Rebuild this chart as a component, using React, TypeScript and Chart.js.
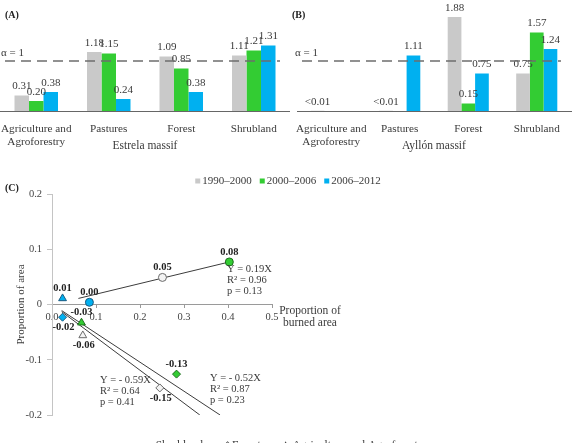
import React, { useEffect, useRef } from 'react';
import { Chart, registerables } from 'chart.js';

Chart.register(...registerables);

const FONT = "'Liberation Serif', 'Times New Roman', serif";
Chart.defaults.font.family = FONT;
Chart.defaults.color = '#333333';

// ---------- Data: panels A and B ----------
const categories = [['Agriculture and', 'Agroforestry'], 'Pastures', 'Forest', 'Shrubland'];
const periods = ['1990–2000', '2000–2006', '2006–2012'];
const periodColors = ['#C9C9C9', '#33CC33', '#00B0F0'];

const estrela1990 = [0.31, 1.18, 1.09, 1.11];
const estrela2000 = [0.2, 1.15, 0.85, 1.21];
const estrela2006 = [0.38, 0.24, 0.38, 1.31];

const ayllon1990 = [0.005, 0.005, 1.88, 0.75];
const ayllon2000 = [null, null, 0.15, 1.57];
const ayllon2006 = [null, 1.11, 0.75, 1.24];

const massifs = ['Estrela massif', 'Ayllón massif'];
const alphaValue = 1;

// ---------- Data: panel C ----------
const landCovers = ['Shrubland', 'Forest', 'Agriculture and Agroforestry'];
const shrubBurned = [0.251, 0.403, 0.085];
const shrubChange = [0.049, 0.077, 0.004];
const forestBurned = [0.245, 0.283, 0.024];
const forestChange = [-0.151, -0.126, -0.023];
const agriBurned = [0.07, 0.067, 0.024];
const agriChange = [-0.056, -0.033, 0.011];

const fitShrubX = [0.06, 0.403];
const fitShrubY = [0.011, 0.077];
const fitSteepX = [0.022, 0.336];
const fitSteepY = [-0.013, -0.2];
const fitShallowX = [0.022, 0.382];
const fitShallowY = [-0.011, -0.2];
const fitTexts = [
  ['Y = 0.19X', 'R² = 0.96', 'p = 0.13'],
  ['Y = - 0.59X', 'R² = 0.64', 'p = 0.41'],
  ['Y = - 0.52X', 'R² = 0.87', 'p = 0.23'],
];
const shapeLegend = ['○Shrubland', '◇Forest', '△ Agriculture and Agroforestry'];

const TEXT = '#3a3a3a';

// ---------- Plugins ----------
const panelLabelPlugin = {
  id: 'panelLabel',
  afterDraw(chart: any, _a: any, opts: any) {
    const ctx = chart.ctx;
    ctx.save();
    ctx.font = `bold 10px ${FONT}`;
    ctx.fillStyle = '#222';
    ctx.textAlign = 'left';
    ctx.textBaseline = 'middle';
    ctx.fillText(opts.text, opts.x, opts.y);
    ctx.restore();
  },
};

const barLabelsPlugin = {
  id: 'barLabels',
  afterDatasetsDraw(chart: any) {
    const ctx = chart.ctx;
    ctx.save();
    ctx.font = `11px ${FONT}`;
    ctx.fillStyle = TEXT;
    ctx.textAlign = 'center';
    ctx.textBaseline = 'middle';
    chart.data.datasets.forEach((ds: any, i: number) => {
      const meta = chart.getDatasetMeta(i);
      meta.data.forEach((el: any, j: number) => {
        const v = ds.data[j];
        if (v === null || v === undefined) return;
        const t = v < 0.01 ? '<0.01' : v.toFixed(2);
        ctx.fillText(t, el.x, el.y - 9);
      });
    });
    ctx.restore();
  },
};

const refLinePlugin = {
  id: 'refLine',
  afterDatasetsDraw(chart: any, _a: any, opts: any) {
    const { ctx, chartArea } = chart;
    const y = chart.scales.y.getPixelForValue(opts.value);
    ctx.save();
    ctx.strokeStyle = '#6e6e6e';
    ctx.lineWidth = 1.6;
    ctx.setLineDash([10, 6]);
    ctx.beginPath();
    ctx.moveTo(chartArea.left + 5, y);
    ctx.lineTo(chartArea.right - 10, y);
    ctx.stroke();
    ctx.setLineDash([]);
    ctx.font = `11px ${FONT}`;
    ctx.fillStyle = TEXT;
    ctx.textAlign = 'left';
    ctx.textBaseline = 'middle';
    ctx.fillText(opts.label, chartArea.left + opts.labelDx, y - 8);
    ctx.restore();
  },
};

const pointLabelsPlugin = {
  id: 'pointLabels',
  afterDatasetsDraw(chart: any, _a: any, opts: any) {
    const ctx = chart.ctx;
    ctx.save();
    ctx.font = `bold 10.5px ${FONT}`;
    ctx.fillStyle = '#222';
    ctx.textAlign = 'center';
    ctx.textBaseline = 'middle';
    opts.sides.forEach((sides: string[], i: number) => {
      const meta = chart.getDatasetMeta(i);
      const ds = chart.data.datasets[i];
      meta.data.forEach((el: any, j: number) => {
        const v = ds.data[j].y;
        const dy = sides[j] === 'above' ? -10 : 10;
        ctx.fillText(v.toFixed(2), el.x + (sides[j] === 'below' ? 1 : 0), el.y + dy);
      });
    });
    ctx.restore();
  },
};

const fitLabelsPlugin = {
  id: 'fitLabels',
  afterDatasetsDraw(chart: any, _a: any, opts: any) {
    const ctx = chart.ctx;
    const { x: xs, y: ys } = chart.scales;
    ctx.save();
    ctx.font = `10.5px ${FONT}`;
    ctx.fillStyle = TEXT;
    ctx.textAlign = 'left';
    ctx.textBaseline = 'middle';
    fitTexts.forEach((lines, i) => {
      const [ax, ay] = opts.anchors[i];
      const px = xs.getPixelForValue(ax);
      const py = ys.getPixelForValue(ay);
      lines.forEach((l, k) => ctx.fillText(l, px, py + k * 11));
    });
    ctx.restore();
  },
};

const legendsPlugin = {
  id: 'legendsC',
  afterDraw(chart: any, _a: any, opts: any) {
    const ctx = chart.ctx;
    ctx.save();
    // colour legend
    ctx.font = `11px ${FONT}`;
    ctx.textBaseline = 'middle';
    ctx.textAlign = 'left';
    const box = 5, gapBox = 2, gapItem = 8;
    const widths = periods.map((p) => box + gapBox + ctx.measureText(p).width);
    const total = widths.reduce((a, b) => a + b, 0) + gapItem * (periods.length - 1);
    let x = opts.colorCenterX - total / 2;
    periods.forEach((p, i) => {
      ctx.fillStyle = periodColors[i];
      ctx.fillRect(x, opts.colorY - box / 2, box, box);
      ctx.fillStyle = TEXT;
      ctx.fillText(p, x + box + gapBox, opts.colorY);
      x += widths[i] + gapItem;
    });
    // shape legend
    ctx.font = `11.5px ${FONT}`;
    ctx.textBaseline = 'alphabetic';
    const sw = shapeLegend.map((s) => ctx.measureText(s).width);
    const sg = 20;
    const stotal = sw.reduce((a, b) => a + b, 0) + sg * (shapeLegend.length - 1);
    let sx = opts.colorCenterX - stotal / 2;
    shapeLegend.forEach((s, i) => {
      ctx.fillStyle = TEXT;
      ctx.fillText(s, sx, opts.shapeY);
      sx += sw[i] + sg;
    });
    // x-axis title
    const { chartArea } = chart;
    const y0 = chart.scales.y.getPixelForValue(0);
    ctx.font = `11.5px ${FONT}`;
    ctx.textAlign = 'center';
    ctx.textBaseline = 'middle';
    opts.xTitle.forEach((l: string, k: number) => {
      ctx.fillText(l, chartArea.right + 38, y0 + 6 + k * 12);
    });
    ctx.restore();
  },
};

function barConfig(series: (number | null)[][], massif: string, panel: string, panelX: number, padLeft: number, padRight: number, labelDx: number) {
  return {
    type: 'bar',
    data: {
      labels: categories,
      datasets: series.map((d, i) => ({
        label: periods[i],
        data: d,
        backgroundColor: periodColors[i],
        borderWidth: 0,
        categoryPercentage: 0.6,
        barPercentage: 1,
      })),
    },
    options: {
      animation: false,
      responsive: false,
      layout: { padding: { top: 15, left: padLeft, right: padRight, bottom: 0 } },
      plugins: {
        legend: { display: false },
        tooltip: { enabled: false },
        refLine: { value: alphaValue, label: 'α = 1', labelDx },
        panelLabel: { text: panel, x: panelX, y: 15 },
      },
      scales: {
        x: {
          grid: { display: false },
          border: { display: true, color: '#666', width: 1 },
          ticks: { font: { size: 11.2, lineHeight: 1.12 }, color: TEXT, padding: 4, maxRotation: 0, autoSkip: false },
          title: { display: true, text: massif, font: { size: 11.5 }, color: TEXT, padding: { top: 0, bottom: 7 } },
          afterFit: (s: any) => {
            s.height = 49;
            s.paddingLeft = 0;
            s.paddingRight = 0;
          },
        },
        y: { display: false, min: 0, max: 1.92 },
      },
    },
    plugins: [barLabelsPlugin, refLinePlugin, panelLabelPlugin],
  };
}

const periodFill = ['#F4F4F4', '#33CC33', '#00B0F0'];
const periodBorder = ['#6a6a6a', '#1E6E1E', '#1A5A80'];

function scatterConfig() {
  const pts = (xs: number[], ys: number[]) => xs.map((x, i) => ({ x, y: ys[i] }));
  const pointDs = (label: string, data: any, style: string, r: number) => ({
    label,
    data,
    pointStyle: style,
    pointRadius: r,
    backgroundColor: periodFill,
    borderColor: periodBorder,
    borderWidth: 1,
    order: 1,
  });
  const lineDs = (data: any) => ({
    label: 'fit',
    data,
    showLine: true,
    pointRadius: 0,
    borderColor: '#3c3c3c',
    borderWidth: 1,
    fill: false,
    order: 2,
  });
  return {
    type: 'scatter',
    data: {
      datasets: [
        pointDs(landCovers[0], pts(shrubBurned, shrubChange), 'circle', 4),
        pointDs(landCovers[1], pts(forestBurned, forestChange), 'rectRot', 4),
        pointDs(landCovers[2], pts(agriBurned, agriChange), 'triangle', 4.5),
        lineDs(pts(fitShrubX, fitShrubY)),
        lineDs(pts(fitSteepX, fitSteepY)),
        lineDs(pts(fitShallowX, fitShallowY)),
      ],
    },
    options: {
      animation: false,
      responsive: false,
      layout: { padding: { top: 34, left: 0, right: 301, bottom: 28 } },
      plugins: {
        legend: { display: false },
        tooltip: { enabled: false },
        panelLabel: { text: '(C)', x: 5, y: 28 },
        pointLabels: {
          sides: [
            ['above', 'above', 'above'],
            ['below', 'above', 'below'],
            ['below', 'above', 'above'],
          ],
        },
        fitLabels: {
          anchors: [
            [0.398, 0.064],
            [0.109, -0.138],
            [0.359, -0.133],
          ],
        },
        legendsC: { colorCenterX: 288, colorY: 21, shapeY: 289, xTitle: ['Proportion of', 'burned area'] },
      },
      scales: {
        x: {
          type: 'linear',
          position: { y: 0 },
          min: 0,
          max: 0.5,
          ticks: { stepSize: 0.1, font: { size: 10.5 }, color: '#444', padding: 3, callback: (v: number) => v.toFixed(1) },
          grid: { display: true, drawOnChartArea: false, tickLength: 3, color: '#9a9a9a' },
          border: { display: true, color: '#9a9a9a', width: 1 },
        },
        y: {
          type: 'linear',
          position: 'left',
          min: -0.2,
          max: 0.2,
          ticks: {
            stepSize: 0.1,
            font: { size: 10.5 },
            color: '#444',
            padding: 5,
            callback: (v: number) => (Math.abs(v) < 1e-9 ? '0' : v.toFixed(1)),
          },
          grid: { display: true, drawOnChartArea: false, tickLength: 5, color: '#c4c4c4' },
          border: { display: true, color: '#c4c4c4', width: 1 },
          title: { display: true, text: 'Proportion of area', font: { size: 11 }, color: TEXT, padding: { top: 15, bottom: 0 } },
          afterFit: (s: any) => {
            s.width = 52;
          },
        },
      },
    },
    plugins: [pointLabelsPlugin, fitLabelsPlugin, legendsPlugin, panelLabelPlugin],
  };
}

export default function App() {
  const aRef = useRef<HTMLCanvasElement>(null);
  const bRef = useRef<HTMLCanvasElement>(null);
  const cRef = useRef<HTMLCanvasElement>(null);

  useEffect(() => {
    const charts: Chart[] = [];
    if (aRef.current)
      charts.push(new Chart(aRef.current, barConfig([estrela1990, estrela2000, estrela2006], massifs[0], '(A)', 5, 0, 0, 1) as any));
    if (bRef.current)
      charts.push(new Chart(bRef.current, barConfig([ayllon1990, ayllon2000, ayllon2006], massifs[1], '(B)', 7, 12, 2, -2) as any));
    if (cRef.current) charts.push(new Chart(cRef.current, scatterConfig() as any));
    return () => charts.forEach((c) => c.destroy());
  }, []);

  const abs = (l: number, t: number): React.CSSProperties => ({ position: 'absolute', left: l, top: t, display: 'block' });

  return (
    <div style={{ position: 'absolute', left: 0, top: 0, width: 573, height: 443, background: '#fff', overflow: 'hidden' }}>
      <canvas ref={aRef} width={290} height={160} style={abs(0, 0)} />
      <canvas ref={bRef} width={288} height={160} style={abs(285, 0)} />
      <canvas ref={cRef} width={573} height={283} style={abs(0, 160)} />
    </div>
  );
}
